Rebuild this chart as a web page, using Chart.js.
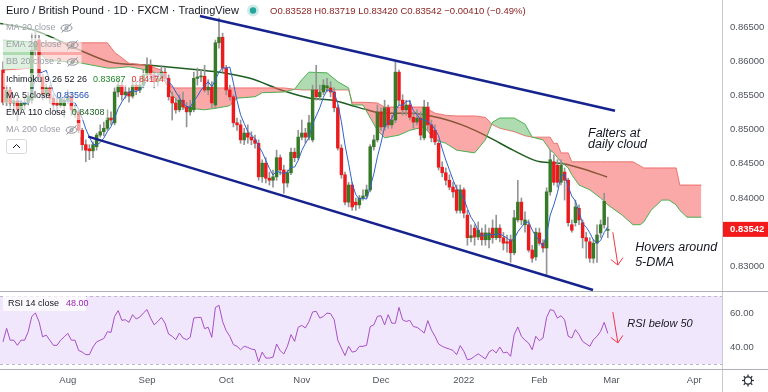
<!DOCTYPE html>
<html>
<head>
<meta charset="utf-8">
<script src="https://cdn.jsdelivr.net/npm/chart.js@4.4.1/dist/chart.umd.min.js"></script>
<style>
  html, body { margin: 0; padding: 0; background: #fff; }
  #wrap { position: relative; width: 768px; height: 392px; overflow: hidden; }
  #main { position: absolute; left: 0; top: 0; }
  #rsi { position: absolute; left: 0; top: 292px; }
</style>
</head>
<body>
<div id="wrap">
  <canvas id="main" width="768" height="292"></canvas>
  <canvas id="rsi" width="768" height="100"></canvas>
</div>
<script>
// EUR/GBP daily, 7 Jul 2021 .. 28 Feb 2022 (index 0 = first visible candle)
const openP = [
  0.8587,0.8540,0.8558,0.8539,0.8542,0.8529,0.8537,0.8540,0.8543,0.8616,
  0.8631,0.8577,0.8551,0.8561,0.8546,0.8539,0.8536,0.8535,0.8543,0.8549,
  0.8526,0.8526,0.8499,0.8478,0.8472,0.8469,0.8475,0.8492,0.8497,0.8502,
  0.8517,0.8510,0.8555,0.8565,0.8551,0.8555,0.8549,0.8565,0.8558,0.8565,
  0.8580,0.8594,0.8580,0.8570,0.8575,0.8584,0.8575,0.8548,0.8539,0.8529,
  0.8543,0.8533,0.8526,0.8529,0.8575,0.8577,0.8578,0.8558,0.8562,0.8536,
  0.8627,0.8635,0.8590,0.8558,0.8548,0.8510,0.8507,0.8485,0.8495,0.8489,
  0.8485,0.8480,0.8431,0.8451,0.8429,0.8426,0.8431,0.8459,0.8441,0.8422,
  0.8437,0.8467,0.8459,0.8489,0.8495,0.8489,0.8485,0.8558,0.8548,0.8555,
  0.8561,0.8561,0.8555,0.8532,0.8473,0.8434,0.8394,0.8419,0.8394,0.8390,
  0.8400,0.8403,0.8412,0.8475,0.8485,0.8526,0.8504,0.8532,0.8507,0.8514,
  0.8584,0.8543,0.8529,0.8536,0.8518,0.8511,0.8517,0.8488,0.8533,0.8507,
  0.8499,0.8480,0.8445,0.8437,0.8426,0.8416,0.8412,0.8382,0.8412,0.8375,
  0.8342,0.8356,0.8343,0.8349,0.8339,0.8339,0.8356,0.8342,0.8356,0.8342,
  0.8336,0.8339,0.8320,0.8368,0.8394,0.8361,0.8361,0.8324,0.8314,0.8349,
  0.8334,0.8327,0.8409,0.8453,0.8448,0.8423,0.8438,0.8426,0.8361,0.8364,
  0.8385,0.8364,0.8342,0.8336,0.8312,0.8334,0.8349,0.8361,0.83528
];
const highP = [
  0.8599,0.8565,0.8562,0.8551,0.8546,0.8543,0.8548,0.8555,0.8641,0.8646,
  0.8638,0.8581,0.8567,0.8565,0.8551,0.8546,0.8554,0.8549,0.8558,0.8554,
  0.8536,0.8529,0.8502,0.8485,0.8478,0.8482,0.8495,0.8507,0.8511,0.8529,
  0.8526,0.8561,0.8573,0.8570,0.8565,0.8561,0.8573,0.8570,0.8575,0.8587,
  0.8605,0.8602,0.8584,0.8583,0.8594,0.8590,0.8580,0.8555,0.8546,0.8551,
  0.8555,0.8540,0.8543,0.8584,0.8590,0.8587,0.8594,0.8573,0.8570,0.8631,
  0.8663,0.8641,0.8594,0.8565,0.8551,0.8517,0.8514,0.8502,0.8507,0.8497,
  0.8492,0.8485,0.8456,0.8459,0.8438,0.8441,0.8470,0.8463,0.8448,0.8441,
  0.8473,0.8473,0.8499,0.8514,0.8502,0.8521,0.8565,0.8594,0.8565,0.8573,
  0.8575,0.8570,0.8561,0.8536,0.8478,0.8438,0.8423,0.8423,0.8400,0.8404,
  0.8412,0.8419,0.8478,0.8492,0.8536,0.8532,0.8543,0.8536,0.8521,0.8599,
  0.8587,0.8551,0.8543,0.8543,0.8526,0.8529,0.8526,0.8543,0.8540,0.8514,
  0.8507,0.8485,0.8453,0.8444,0.8434,0.8423,0.8419,0.8419,0.8415,0.8382,
  0.8361,0.8361,0.8365,0.8356,0.8361,0.8356,0.8368,0.8375,0.8361,0.8350,
  0.8346,0.8346,0.8382,0.8426,0.8400,0.8380,0.8368,0.8331,0.8356,0.8356,
  0.8339,0.8415,0.8470,0.8463,0.8456,0.8456,0.8444,0.8429,0.8368,0.8397,
  0.8390,0.8368,0.8350,0.8342,0.8339,0.8361,0.8368,0.8407,0.83719
];
const lowP = [
  0.8536,0.8535,0.8529,0.8526,0.8514,0.8524,0.8529,0.8536,0.8539,0.8608,
  0.8573,0.8543,0.8545,0.8539,0.8526,0.8524,0.8532,0.8518,0.8539,0.8521,
  0.8518,0.8495,0.8470,0.8453,0.8456,0.8459,0.8470,0.8489,0.8491,0.8499,
  0.8507,0.8507,0.8548,0.8543,0.8546,0.8540,0.8546,0.8551,0.8554,0.8561,
  0.8577,0.8573,0.8561,0.8564,0.8573,0.8570,0.8543,0.8514,0.8524,0.8526,
  0.8529,0.8504,0.8521,0.8526,0.8565,0.8570,0.8555,0.8551,0.8532,0.8532,
  0.8619,0.8584,0.8551,0.8543,0.8504,0.8499,0.8480,0.8478,0.8480,0.8478,
  0.8473,0.8426,0.8423,0.8422,0.8419,0.8416,0.8426,0.8434,0.8407,0.8416,
  0.8434,0.8453,0.8456,0.8485,0.8480,0.8485,0.8482,0.8543,0.8543,0.8551,
  0.8555,0.8548,0.8526,0.8470,0.8429,0.8390,0.8387,0.8382,0.8382,0.8385,
  0.8397,0.8400,0.8409,0.8470,0.8482,0.8499,0.8499,0.8502,0.8502,0.8510,
  0.8536,0.8521,0.8521,0.8514,0.8502,0.8507,0.8485,0.8485,0.8499,0.8482,
  0.8478,0.8441,0.8431,0.8419,0.8412,0.8401,0.8378,0.8378,0.8371,0.8331,
  0.8336,0.8331,0.8339,0.8331,0.8331,0.8327,0.8334,0.8339,0.8336,0.8324,
  0.8321,0.8306,0.8317,0.8365,0.8361,0.8350,0.8321,0.8306,0.8309,0.8331,
  0.8321,0.8287,0.8404,0.8419,0.8416,0.8419,0.8397,0.8359,0.8350,0.8359,
  0.8361,0.8327,0.8312,0.8306,0.8305,0.8306,0.8342,0.8356,0.83420
];
const closeP = [
  0.8540,0.8558,0.8539,0.8542,0.8529,0.8539,0.8540,0.8549,0.8616,0.8628,
  0.8577,0.8551,0.8561,0.8546,0.8537,0.8536,0.8546,0.8543,0.8549,0.8529,
  0.8529,0.8499,0.8478,0.8470,0.8469,0.8478,0.8492,0.8497,0.8502,0.8517,
  0.8514,0.8555,0.8565,0.8551,0.8555,0.8549,0.8565,0.8558,0.8565,0.8580,
  0.8594,0.8580,0.8570,0.8575,0.8584,0.8575,0.8548,0.8539,0.8529,0.8543,
  0.8533,0.8526,0.8533,0.8575,0.8577,0.8578,0.8558,0.8562,0.8539,0.8627,
  0.8635,0.8590,0.8558,0.8548,0.8510,0.8507,0.8485,0.8495,0.8489,0.8485,
  0.8480,0.8431,0.8451,0.8429,0.8426,0.8431,0.8459,0.8441,0.8422,0.8437,
  0.8467,0.8459,0.8489,0.8495,0.8489,0.8510,0.8558,0.8548,0.8555,0.8565,
  0.8564,0.8555,0.8532,0.8473,0.8434,0.8394,0.8419,0.8387,0.8390,0.8400,
  0.8403,0.8412,0.8475,0.8485,0.8526,0.8504,0.8532,0.8507,0.8514,0.8584,
  0.8543,0.8529,0.8536,0.8518,0.8511,0.8517,0.8492,0.8533,0.8507,0.8488,
  0.8482,0.8445,0.8437,0.8426,0.8416,0.8409,0.8382,0.8412,0.8378,0.8342,
  0.8345,0.8343,0.8353,0.8339,0.8349,0.8349,0.8342,0.8356,0.8342,0.8334,
  0.8334,0.8320,0.8371,0.8394,0.8368,0.8368,0.8324,0.8312,0.8350,0.8334,
  0.8327,0.8409,0.8456,0.8423,0.8423,0.8448,0.8426,0.8364,0.8353,0.8387,
  0.8368,0.8342,0.8337,0.8312,0.8334,0.8346,0.8361,0.83952,0.83542
];

const rsiVals = [
  43,51,44,44,41,44,44,49,58,60,
  55,46,47,44,41,41,44,46,48,44,
  44,38,37,35.5,35.5,40,43,44,45,49,
  48.6,58,61.4,55.7,56,54.5,59,56.5,57.6,60,
  62,57,53,55,57.4,54,47.6,46.3,44.3,48.2,
  45.3,44.3,45.7,57,57.4,57.4,50.8,51.6,45.7,63.3,
  64.5,55,49.6,46.3,41.4,40.4,38.4,40.4,39.8,38.8,
  38.4,31.2,37,33.5,33.5,34,41.8,37.8,35.9,40.4,
  47.3,43.3,51.6,52.7,51.2,55,60.6,61,57,58,
  60,59.6,56,44,39.4,35,40.4,37,37.5,40.4,
  40.4,41,52,53,58,58.4,53,59,54,54,
  63.3,56,55,55.7,52,51.6,50,48.2,55.5,50,
  46.3,41.8,40.4,39.5,38.8,38,35.5,40.8,37.5,32.5,
  33,34.5,36,34.5,33,37,38.4,36.5,40,36.5,
  37,34.5,47.3,51.8,46.3,44,42.3,38.4,46.3,43.7,
  45.3,57.4,62,61.4,57,58.4,56,46.3,45.3,50.2,
  47.3,43.3,41.8,40.4,44.3,46.3,49.2,54.5,48
];

// EMA 110 sampled along the line
const emaIdx = [-0.8, 8.3, 21.4, 29.7, 40.8, 54.7, 60.3, 68.6, 77.8, 85.3, 91.7, 96.4, 101.1, 105.6, 113.1, 121.4, 128.9, 135.3, 141.7, 149.2, 154.7, 160.3, 167.8];
const emaVals = [0.8655, 0.8646, 0.8616, 0.8599, 0.8594, 0.8587, 0.8584, 0.8575, 0.8557, 0.8546, 0.8543, 0.8536, 0.8529, 0.8524, 0.8524, 0.8517, 0.8504, 0.8488, 0.8470, 0.8453, 0.8451, 0.8444, 0.84308];

// Ichimoku cloud (leading spans, already shifted 26 bars forward)
const cloudIdx = [0,8,9,12,22,29,31,35,40,44,47,50,56,60,63,65,70,72,78,81,83,85,90,93,96,97,100,104,106,110,113,117,120,123,126,131,134,136,138,142,145,147,150,152,153,154,155,157,158,160,163,166,168,172,175,177,178,180,183,185,187,188,190,194];
const spanA = [0.8631,0.8628,0.8619,0.8602,0.8597,0.8590,0.8590,0.8592,0.8587,0.8580,0.8551,0.8532,0.8529,0.8532,0.8535,0.8546,0.8548,0.8554,0.8555,0.8559,0.8573,0.8584,0.8583,0.8570,0.8561,0.8536,0.8536,0.8499,0.8488,0.8492,0.8499,0.8504,0.8485,0.8480,0.8470,0.8466,0.8485,0.8511,0.8517,0.8517,0.8508,0.8489,0.8485,0.8470,0.8466,0.8459,0.8453,0.8444,0.8434,0.8419,0.8412,0.8400,0.8390,0.8375,0.8361,0.8361,0.8365,0.8382,0.8397,0.8397,0.8390,0.8382,0.8372,0.8372];
const spanB = [0.8587,0.8590,0.8627,0.8627,0.8627,0.8627,0.8613,0.8597,0.8594,0.8587,0.8561,0.8561,0.8561,0.8561,0.8561,0.8561,0.8561,0.8561,0.8561,0.8559,0.8558,0.8558,0.8558,0.8558,0.8558,0.8540,0.8540,0.8539,0.8533,0.8533,0.8533,0.8533,0.8524,0.8521,0.8520,0.8520,0.8518,0.8507,0.8502,0.8497,0.8491,0.8489,0.8489,0.8489,0.8480,0.8480,0.8466,0.8466,0.8453,0.8453,0.8453,0.8453,0.8453,0.8453,0.8453,0.8447,0.8444,0.8444,0.8444,0.8444,0.8444,0.8419,0.8419,0.8419];

// hand-drawn channel
const chanUpper = [[54.7, 0.86661], [170, 0.85277]];
const chanLower = [[23.7, 0.84897], [163.9, 0.82655]];

const monthTicks = [18, 40, 62, 83, 105, 128, 149, 169, 192];
const monthLabels = ['Aug', 'Sep', 'Oct', 'Nov', 'Dec', '2022', 'Feb', 'Mar', 'Apr'];
const priceTicks = [0.830, 0.840, 0.845, 0.850, 0.855, 0.860, 0.865];
const rsiTicks = [40, 60];
const rsiBand = [30, 70];

const notes = [
  { text: 'Falters at', x: 162.5, y: 0.8495 },
  { text: 'daily cloud', x: 162.5, y: 0.8478 },
  { text: 'Hovers around', x: 175.6, y: 0.8327 },
  { text: '5-DMA', x: 175.6, y: 0.8306 }
];
const priceArrow = [[169.4, 0.8350], [170.8, 0.8302]];
const rsiNote = { text: 'RSI below 50', x: 173.4, y: 53.5 };
const rsiArrow = [[169.4, 60.6], [170.8, 42.4]];

const X_MIN = -0.833, X_MAX = 199.72;
const Y_MIN = 0.82641, Y_MAX = 0.86895;
const R_MIN = 27.06, R_MAX = 72.35;

const FONT = '"Liberation Sans", Arial, sans-serif';
const GREEN = '#367a28', RED = '#ea1a1d', AXIS = '#50535e', INK = '#131722', MUTED = '#9a9da6';

const N = closeP.length;
const ma5 = [];
for (let i = 4; i < N; i++) {
  let s = 0;
  for (let k = i - 4; k <= i; k++) s += closeP[k];
  ma5.push({ x: i, y: s / 5 });
}
const bodies = openP.map((o, i) => ({ x: i, y: [o, closeP[i]] }));
const wicks = highP.map((h, i) => ({ x: i, y: [lowP[i], h] }));
const bodyCol = openP.map((o, i) => closeP[i] >= o ? GREEN : RED);
const xy = (xs, ys) => xs.map((x, i) => ({ x: x, y: ys[i] }));

function eyeOff(ctx, cx, cy) {
  ctx.save();
  ctx.strokeStyle = '#8c8f98';
  ctx.lineWidth = 1;
  ctx.beginPath(); ctx.ellipse(cx, cy, 5.5, 3.2, 0, 0, Math.PI * 2); ctx.stroke();
  ctx.beginPath(); ctx.arc(cx, cy, 1.5, 0, Math.PI * 2); ctx.stroke();
  ctx.beginPath(); ctx.moveTo(cx - 5, cy + 4.5); ctx.lineTo(cx + 5, cy - 4.5); ctx.stroke();
  ctx.restore();
}

function legendRow(ctx, y, parts, eye) {
  ctx.font = '9px ' + FONT;
  ctx.textBaseline = 'middle';
  const w = parts.map(p => ctx.measureText(p[0]).width);
  const total = w.reduce((a, b) => a + b, 0) + 6 * (parts.length - 1) + (eye ? 17 : 0);
  ctx.fillStyle = 'rgba(255,255,255,0.6)';
  ctx.fillRect(3, y - 7, total + 6, 14);
  let x = 6;
  parts.forEach((p, k) => { ctx.fillStyle = p[1]; ctx.fillText(p[0], x, y); x += w[k] + 6; });
  if (eye) eyeOff(ctx, x + 5, y);
}

function arrow(ctx, x1, y1, x2, y2) {
  const a = Math.atan2(y2 - y1, x2 - x1), h = 9;
  ctx.save();
  ctx.strokeStyle = '#f23645';
  ctx.lineWidth = 1;
  ctx.beginPath();
  ctx.moveTo(x1, y1); ctx.lineTo(x2, y2);
  ctx.moveTo(x2 - h * Math.cos(a - 0.75), y2 - h * Math.sin(a - 0.75));
  ctx.lineTo(x2, y2);
  ctx.lineTo(x2 - h * Math.cos(a + 0.75), y2 - h * Math.sin(a + 0.75));
  ctx.stroke();
  ctx.restore();
}

const mainDecor = {
  id: 'mainDecor',
  afterDatasetsDraw(chart) {
    const ctx = chart.ctx, xs = chart.scales.x, ys = chart.scales.y;
    // indicator legend
    legendRow(ctx, 28, [['MA 20 close', MUTED]], true);
    legendRow(ctx, 45, [['EMA 20 close', MUTED]], true);
    legendRow(ctx, 62, [['BB 20 close 2', MUTED]], true);
    legendRow(ctx, 80, [['Ichimoku 9 26 52 26', INK], ['0.83687', '#1f8a2a'], ['0.84174', '#e53935']], false);
    legendRow(ctx, 96, [['MA 5 close', INK], ['0.83566', '#1f4fb8']], false);
    legendRow(ctx, 113, [['EMA 110 close', INK], ['0.84308', '#1e5e20']], false);
    legendRow(ctx, 130, [['MA 200 close', MUTED]], true);
    ctx.save();
    ctx.strokeStyle = '#d6d8de'; ctx.fillStyle = '#fff';
    ctx.beginPath(); ctx.roundRect(6.5, 139.5, 20, 14, 2); ctx.fill(); ctx.stroke();
    ctx.strokeStyle = INK;
    ctx.beginPath(); ctx.moveTo(13, 148); ctx.lineTo(16.5, 144.5); ctx.lineTo(20, 148); ctx.stroke();
    ctx.restore();

    // header
    ctx.save();
    ctx.textBaseline = 'middle';
    ctx.font = '11px ' + FONT;
    ctx.fillStyle = INK;
    ctx.fillText('Euro / British Pound · 1D · FXCM · TradingView', 6, 11);
    ctx.fillStyle = 'rgba(38,166,154,0.22)';
    ctx.beginPath(); ctx.arc(253, 10.5, 6, 0, Math.PI * 2); ctx.fill();
    ctx.fillStyle = '#26a69a';
    ctx.beginPath(); ctx.arc(253, 10.5, 3.2, 0, Math.PI * 2); ctx.fill();
    ctx.font = '9.5px ' + FONT;
    ctx.fillStyle = '#8c2424';
    ctx.fillText('O0.83528 H0.83719 L0.83420 C0.83542 −0.00410 (−0.49%)', 270, 11);

    // notes
    ctx.font = 'italic 12.5px ' + FONT;
    ctx.fillStyle = INK;
    notes.forEach(n => ctx.fillText(n.text, xs.getPixelForValue(n.x), ys.getPixelForValue(n.y)));
    ctx.restore();
    arrow(ctx, xs.getPixelForValue(priceArrow[0][0]), ys.getPixelForValue(priceArrow[0][1]),
               xs.getPixelForValue(priceArrow[1][0]), ys.getPixelForValue(priceArrow[1][1]));
  },
  afterDraw(chart) {
    const ctx = chart.ctx, ys = chart.scales.y, a = chart.chartArea;
    ctx.save();
    ctx.strokeStyle = '#c9cbd1';
    ctx.lineWidth = 1;
    ctx.beginPath(); ctx.moveTo(a.right + 0.5, 0); ctx.lineTo(a.right + 0.5, chart.height); ctx.stroke();
    ctx.strokeStyle = '#aeb0b8';
    ctx.beginPath(); ctx.moveTo(0, a.bottom + 0.5); ctx.lineTo(chart.width, a.bottom + 0.5); ctx.stroke();
    // last price tag
    const py = ys.getPixelForValue(closeP[N - 1]);
    ctx.fillStyle = '#f21a1a';
    ctx.fillRect(a.right + 1, py - 7.5, chart.width - a.right - 1, 15);
    ctx.fillStyle = '#fff';
    ctx.font = 'bold 9.5px ' + FONT;
    ctx.textBaseline = 'middle';
    ctx.fillText(closeP[N - 1].toFixed(5), a.right + 8, py + 0.5);
    ctx.restore();
  }
};

const rsiDecor = {
  id: 'rsiDecor',
  beforeDatasetsDraw(chart) {
    const ctx = chart.ctx, ys = chart.scales.y, a = chart.chartArea;
    const yTop = ys.getPixelForValue(rsiBand[1]), yBot = ys.getPixelForValue(rsiBand[0]);
    ctx.save();
    ctx.fillStyle = 'rgba(140,60,230,0.12)';
    ctx.fillRect(a.left, yTop, a.right - a.left, yBot - yTop);
    ctx.strokeStyle = '#bdb6c8';
    ctx.setLineDash([3, 3]);
    [yTop, yBot].forEach(y => {
      ctx.beginPath(); ctx.moveTo(a.left, Math.round(y) + 0.5); ctx.lineTo(a.right, Math.round(y) + 0.5); ctx.stroke();
    });
    ctx.restore();
  },
  afterDraw(chart) {
    const ctx = chart.ctx, xs = chart.scales.x, ys = chart.scales.y, a = chart.chartArea;
    ctx.save();
    ctx.fillStyle = 'rgba(255,255,255,0.7)';
    ctx.fillRect(3, 4, 83, 15);
    ctx.font = '9px ' + FONT;
    ctx.textBaseline = 'middle';
    ctx.fillStyle = INK;
    ctx.fillText('RSI 14 close', 8, 11.5);
    ctx.fillStyle = '#9c27b0';
    ctx.fillText(rsiVals[N - 1].toFixed(2), 8 + ctx.measureText('RSI 14 close').width + 7, 11.5);
    ctx.font = 'italic 11px ' + FONT;
    ctx.fillStyle = INK;
    ctx.fillText(rsiNote.text, xs.getPixelForValue(rsiNote.x), ys.getPixelForValue(rsiNote.y));
    ctx.strokeStyle = '#c9cbd1';
    ctx.lineWidth = 1;
    ctx.beginPath(); ctx.moveTo(a.right + 0.5, 0); ctx.lineTo(a.right + 0.5, chart.height); ctx.stroke();
    ctx.strokeStyle = '#aeb0b8';
    ctx.beginPath(); ctx.moveTo(0, a.bottom + 0.5); ctx.lineTo(chart.width, a.bottom + 0.5); ctx.stroke();
    // settings gear
    const gx = 748, gy = 88.5;
    ctx.strokeStyle = '#2a2e39';
    ctx.lineWidth = 1.2;
    ctx.beginPath(); ctx.arc(gx, gy, 3.6, 0, Math.PI * 2); ctx.stroke();
    for (let k = 0; k < 8; k++) {
      const t = k * Math.PI / 4;
      ctx.beginPath();
      ctx.moveTo(gx + 3.6 * Math.cos(t), gy + 3.6 * Math.sin(t));
      ctx.lineTo(gx + 6 * Math.cos(t), gy + 6 * Math.sin(t));
      ctx.stroke();
    }
    ctx.restore();
    arrow(ctx, xs.getPixelForValue(rsiArrow[0][0]), ys.getPixelForValue(rsiArrow[0][1]),
               xs.getPixelForValue(rsiArrow[1][0]), ys.getPixelForValue(rsiArrow[1][1]));
  }
};

const baseOpts = {
  responsive: false,
  animation: false,
  devicePixelRatio: 1,
  events: [],
  plugins: { legend: { display: false }, tooltip: { enabled: false } }
};

new Chart(document.getElementById('main'), {
  type: 'line',
  data: {
    datasets: [
      { label: 'channel top', data: chanUpper.map(p => ({ x: p[0], y: p[1] })), borderColor: '#16238e', borderWidth: 2.5, pointRadius: 0, order: 0 },
      { label: 'channel bottom', data: chanLower.map(p => ({ x: p[0], y: p[1] })), borderColor: '#16238e', borderWidth: 2.5, pointRadius: 0, order: 0 },
      { label: 'MA 5', data: ma5, borderColor: '#2f62c8', borderWidth: 1, pointRadius: 0, order: 1 },
      { type: 'bar', label: 'body', data: bodies, backgroundColor: bodyCol, barThickness: 2.8, minBarLength: 1, grouped: false, order: 2 },
      { type: 'bar', label: 'wick', data: wicks, backgroundColor: '#949494', barThickness: 1, grouped: false, order: 3 },
      { label: 'Lead 1', data: xy(cloudIdx, spanA), borderColor: '#4caf50', borderWidth: 1, pointRadius: 0, order: 4,
        fill: { target: 6, above: 'rgba(76,175,80,0.45)', below: 'rgba(245,82,82,0.5)' } },
      { label: 'Lead 2', data: xy(cloudIdx, spanB), borderColor: '#f47a7a', borderWidth: 1, pointRadius: 0, order: 4, fill: false },
      { label: 'EMA 110', data: xy(emaIdx, emaVals), borderColor: '#1e5e20', borderWidth: 1.5, pointRadius: 0, cubicInterpolationMode: 'monotone', order: 5 }
    ]
  },
  options: Object.assign({}, baseOpts, {
    layout: { padding: { top: 0, left: 0, right: 0, bottom: 1 } },
    scales: {
      x: { type: 'linear', min: X_MIN, max: X_MAX, offset: false, display: false },
      y: {
        type: 'linear', position: 'right', min: Y_MIN, max: Y_MAX, beginAtZero: false,
        grid: { display: false, drawTicks: false }, border: { display: false },
        ticks: { padding: 8, color: AXIS, font: { family: FONT, size: 9.5 }, callback: v => v.toFixed(5) },
        afterBuildTicks: s => { s.ticks = priceTicks.map(v => ({ value: v })); },
        afterFit: s => { s.width = 46; s.paddingTop = 0; s.paddingBottom = 0; }
      }
    }
  }),
  plugins: [mainDecor]
});

new Chart(document.getElementById('rsi'), {
  type: 'line',
  data: {
    datasets: [
      { label: 'RSI 14', data: rsiVals.map((v, i) => ({ x: i, y: v })), borderColor: '#a64fc4', borderWidth: 1, pointRadius: 0 }
    ]
  },
  options: Object.assign({}, baseOpts, {
    layout: { padding: 0 },
    scales: {
      x: {
        type: 'linear', min: X_MIN, max: X_MAX, offset: false,
        grid: { display: false, drawTicks: false }, border: { display: false },
        ticks: { autoSkip: false, maxRotation: 0, padding: 6, color: AXIS, font: { family: FONT, size: 9.5 },
          callback: v => { const k = monthTicks.indexOf(v); return k < 0 ? '' : monthLabels[k]; } },
        afterBuildTicks: s => { s.ticks = monthTicks.map(v => ({ value: v })); },
        afterFit: s => { s.height = 23; s.paddingLeft = 0; s.paddingRight = 0; }
      },
      y: {
        type: 'linear', position: 'right', min: R_MIN, max: R_MAX,
        grid: { display: false, drawTicks: false }, border: { display: false },
        ticks: { padding: 8, color: AXIS, font: { family: FONT, size: 9.5 }, callback: v => v.toFixed(2) },
        afterBuildTicks: s => { s.ticks = rsiTicks.map(v => ({ value: v })); },
        afterFit: s => { s.width = 46; s.paddingTop = 0; s.paddingBottom = 0; }
      }
    }
  }),
  plugins: [rsiDecor]
});
</script>
</body>
</html>
